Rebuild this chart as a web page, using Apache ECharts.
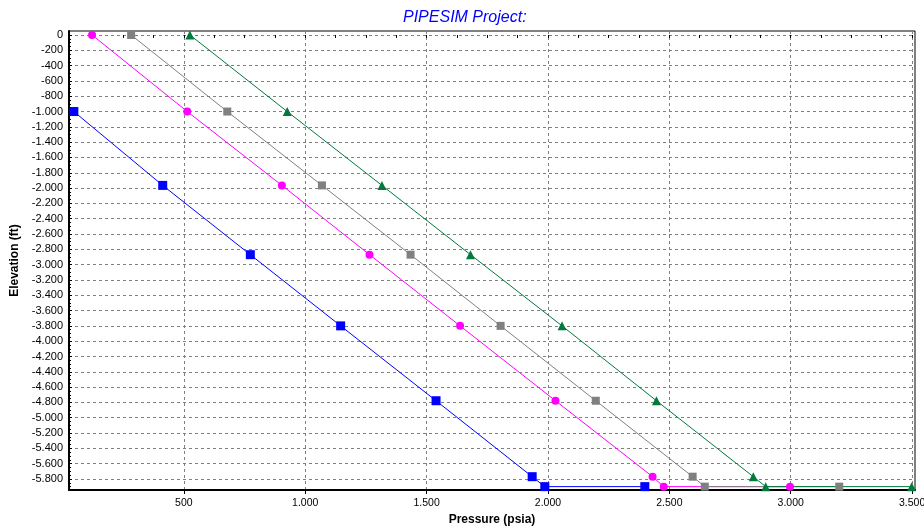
<!DOCTYPE html>
<html>
<head>
<meta charset="utf-8">
<script src="https://cdn.jsdelivr.net/npm/echarts@6/dist/echarts.min.js"></script>
<style>html,body{margin:0;padding:0;background:#fff;}#c{width:924px;height:527px;}</style>
</head>
<body>
<div id="c"></div>
<script>
var titleText = 'PIPESIM Project:';
var xName = 'Pressure (psia)';
var yName = 'Elevation (ft)';

var bluePressure = [47, 413, 774, 1146, 1539, 1935, 1987, 2399];
var blueElevation = [-1000, -1965, -2870, -3800, -4778, -5770, -5900, -5900];

var magentaPressure = [122, 514, 904, 1265, 1638, 2031, 2431, 2477, 2997];
var magentaElevation = [0, -1000, -1965, -2870, -3800, -4778, -5770, -5900, -5900];

var grayPressure = [283, 679, 1069, 1434, 1805, 2197, 2596, 2646, 3200];
var grayElevation = [0, -1000, -1965, -2870, -3800, -4778, -5770, -5900, -5900];

var greenPressure = [525, 926, 1316, 1681, 2058, 2447, 2846, 2897, 3498];
var greenElevation = [0, -1000, -1965, -2870, -3800, -4778, -5770, -5900, -5900];

var xTicks = [500, 1000, 1500, 2000, 2500, 3000, 3500];
var yTicks = [0, -200, -400, -600, -800, -1000, -1200, -1400, -1600, -1800, -2000, -2200, -2400, -2600, -2800, -3000, -3200, -3400, -3600, -3800, -4000, -4200, -4400, -4600, -4800, -5000, -5200, -5400, -5600, -5800];

var xMin = 27, xMax = 3512, yMin = -5944, yMax = 52;

var xMinor = [];
for (var v = 125; v < xMax; v += 125) xMinor.push(v);
var yMinor = [];
for (var w = 0; w > yMin; w -= 50) yMinor.push(w);

function fmt(n) {
  var s = String(Math.abs(n));
  s = s.replace(/\B(?=(\d{3})+(?!\d))/g, '.');
  return (n < 0 ? '-' : '') + s;
}
function pairs(xs, ys) {
  return xs.map(function (x, i) { return [x, ys[i]]; });
}

var FONT = 'Liberation Sans, Arial, sans-serif';
var chart = echarts.init(document.getElementById('c'), null, {renderer: 'canvas'});

function mkSeries(name, xs, ys, color, symbol, size) {
  return {
    name: name, type: 'line', data: pairs(xs, ys),
    symbol: symbol, symbolSize: size, showSymbol: true,
    lineStyle: {color: color, width: 1},
    itemStyle: {color: color},
    animation: false, z: 5, clip: false
  };
}

chart.setOption({
  animation: false,
  backgroundColor: '#fff',
  title: {
    text: titleText, left: 398, top: 5,
    textStyle: {color: '#0000ff', fontStyle: 'italic', fontWeight: 'normal', fontSize: 16, fontFamily: FONT}
  },
  grid: {left: 69, right: 9, top: 31, bottom: 37, show: true, borderColor: '#000', borderWidth: 1, containLabel: false, outerBoundsMode: 'none'},
  xAxis: [{
    type: 'value', min: xMin, max: xMax,
    name: xName, nameLocation: 'middle', nameGap: 22,
    nameTextStyle: {color: '#000', fontWeight: 'bold', fontSize: 12, fontFamily: FONT},
    axisLine: {show: true, onZero: false, lineStyle: {color: '#000', width: 2}},
    axisTick: {show: true, length: 4, customValues: xTicks, lineStyle: {color: '#000'}},
    axisLabel: {customValues: xTicks, formatter: fmt, color: '#000', fontSize: 10.5, fontFamily: FONT, margin: 8},
    splitLine: {show: true, lineStyle: {color: '#808080', type: [3, 3], width: 1}}
  }, {
    type: 'value', min: xMin, max: xMax, position: 'bottom',
    axisLine: {show: false},
    axisTick: {show: true, length: 3, customValues: xMinor, lineStyle: {color: '#000'}},
    axisLabel: {show: false},
    splitLine: {show: false}
  }],
  yAxis: [{
    type: 'value', min: yMin, max: yMax,
    name: yName, nameLocation: 'middle', nameGap: 46, nameRotate: 90,
    nameTextStyle: {color: '#000', fontWeight: 'bold', fontSize: 12, fontFamily: FONT},
    axisLine: {show: true, onZero: false, lineStyle: {color: '#000', width: 2}},
    axisTick: {show: true, inside: true, length: 3, customValues: yTicks, lineStyle: {color: '#000'}},
    axisLabel: {customValues: yTicks, formatter: fmt, color: '#000', fontSize: 11, fontFamily: FONT, margin: 6},
    splitLine: {show: true, lineStyle: {color: '#808080', type: [3, 3], width: 1}}
  }, {
    type: 'value', min: yMin, max: yMax, position: 'left',
    axisLine: {show: false},
    axisTick: {show: true, inside: true, length: 2, customValues: yMinor, lineStyle: {color: '#000'}},
    axisLabel: {show: false},
    splitLine: {show: false}
  }],
  series: [
    mkSeries('Blue', bluePressure, blueElevation, '#0000ff', 'rect', 9),
    mkSeries('Magenta', magentaPressure, magentaElevation, '#ff00ff', 'circle', 8),
    mkSeries('Gray', grayPressure, grayElevation, '#808080', 'rect', 8),
    mkSeries('Green', greenPressure, greenElevation, '#007a3d', 'triangle', 9)
  ]
});
</script>
</body>
</html>
